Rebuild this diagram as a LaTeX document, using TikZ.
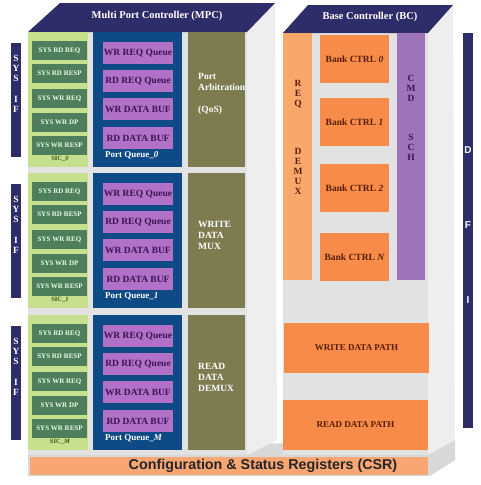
\documentclass[tikz,border=0pt]{standalone}
\usepackage{fontspec}
\setmainfont{Liberation Serif}
\newfontfamily\csrfont{Liberation Sans}
\usetikzlibrary{positioning}

\definecolor{hdrnavy}{HTML}{2F2C6A}
\definecolor{bodygray}{HTML}{E2E2E2}
\definecolor{sidegray}{HTML}{EEEEEE}
\definecolor{plategray}{HTML}{D8D8D8}
\definecolor{sicgreen}{HTML}{C6E08E}
\definecolor{sysgreen}{HTML}{4F7E5C}
\definecolor{pqblue}{HTML}{0E4A86}
\definecolor{qpurple}{HTML}{B171C6}
\definecolor{olivegreen}{HTML}{7D7C50}
\definecolor{reqorange}{HTML}{F9A86C}
\definecolor{bankorange}{HTML}{F68B4A}
\definecolor{cmdpurple}{HTML}{9E74B8}
\definecolor{csrorange}{HTML}{F8A673}
\definecolor{txtbrown}{HTML}{5A1E05}
\definecolor{txtpurple}{HTML}{3C1458}
\definecolor{txtsic}{HTML}{3D5218}

\newcommand{\Sub}[1]{\_\textit{#1}}

\begin{document}
\begin{tikzpicture}[x=1pt, y=-1pt,
    blk/.style={anchor=north west, inner sep=0pt, outer sep=0pt},
    hdr/.style={text=white, inner sep=0pt, font=\bfseries\fontsize{10.5}{12}\selectfont},
    sysif/.style={blk, fill=hdrnavy, minimum width=10pt, minimum height=114pt},
    sic/.style={blk, fill=sicgreen, minimum width=60pt, minimum height=135pt},
    sysbox/.style={blk, fill=sysgreen, text=white!90!green, minimum width=55pt, minimum height=19pt, font=\bfseries\fontsize{7}{8}\selectfont},
    pq/.style={blk, fill=pqblue, minimum width=89pt, minimum height=135pt},
    qbox/.style={blk, fill=qpurple, text=txtpurple, minimum width=70pt, minimum height=22pt, font=\bfseries\fontsize{9.5}{10}\selectfont},
    oliveblk/.style={blk, fill=olivegreen, minimum width=57pt, minimum height=135pt},
    olivetxt/.style={anchor=west, align=left, inner sep=0pt, text=white, font=\bfseries\fontsize{9.5}{11}\selectfont},
    bank/.style={blk, fill=bankorange, text=txtbrown, minimum width=69pt, minimum height=48pt, font=\bfseries\fontsize{9.5}{11}\selectfont},
    datapath/.style={blk, fill=bankorange, text=txtbrown, minimum width=145pt, minimum height=50pt, font=\bfseries\fontsize{9}{11}\selectfont},
    letters/.style={align=center, inner sep=0pt, font=\bfseries\fontsize{9.5}{10}\selectfont}]

    \useasboundingbox (0,0) rectangle (480,485);

    % slab and the two boxes
    \fill[plategray] (28,448) -- (455,440) -- (455,460) -- (430,476) -- (28,476) -- cycle;
    \fill[bodygray] (28,32) rectangle (247,455);
    \fill[sidegray] (247,32) -- (275,3) -- (277,440) -- (247,455) -- cycle;
    \fill[hdrnavy] (60,3) -- (275,3) -- (247,32) -- (28,32) -- cycle;
    \node[hdr] (mpc) at (157,16) {Multi Port Controller (MPC)};

    \fill[bodygray] (283,33) rectangle (428,455);
    \fill[sidegray] (428,33) -- (453,5) -- (455,440) -- (428,455) -- cycle;
    \fill[hdrnavy] (308,5) -- (453,5) -- (428,33) -- (283,33) -- cycle;
    \node[hdr] (bc) at (370,17) {Base Controller (BC)};

    % MPC rows
    \foreach \r/\y/\s/\arb in {0/32/0/{Port\\Arbitration\\[11pt](QoS)},
                               1/173/1/{WRITE\\DATA\\MUX},
                               2/315/M/{READ\\DATA\\DEMUX}}{
        \node[sysif] (if\r) at (11,\y+11) {};
        \node[letters, text=white] (iftxt\r) at (16,\y+52) {S\\Y\\S\\[11pt]I\\F};
        \node[sic] (sic\r) at (28,\y) {};
        \foreach \b/\off/\txt in {1/9/SYS RD REQ, 2/32/SYS RD RESP, 3/57/SYS WR REQ,
                                  4/81/SYS WR DP, 5/104/SYS WR RESP}
            \node[sysbox] (sys\r-\b) at (32,\y+\off) {\txt};
        \node[text=txtsic, inner sep=0pt, font=\bfseries\fontsize{6.5}{7}\selectfont] (siclab\r) at (60,\y+127) {SIC\Sub{\s}};
        \node[pq] (pq\r) at (93,\y) {};
        \foreach \q/\off/\txt in {1/10/WR REQ Queue, 2/38/RD REQ Queue,
                                  3/66/WR DATA BUF, 4/95/RD DATA BUF}
            \node[qbox] (q\r-\q) at (103,\y+\off) {\txt};
        \node[anchor=west, inner sep=0pt, text=white, font=\bfseries\fontsize{9}{10}\selectfont] (pqlab\r) at (105,\y+123) {Port Queue\Sub{\s}};
        \node[oliveblk] (ol\r) at (188,\y) {};
        \node[olivetxt] (oltxt\r) at (198,\y+62) {\arb};
    }

    % BC
    \node[blk, fill=reqorange, minimum width=29pt, minimum height=247pt] (reqdemux) at (283,33) {};
    \node[letters, text=txtbrown] (reqtxt) at (298,137) {R\\E\\Q\\[38pt]D\\E\\M\\U\\X};
    \node[blk, fill=cmdpurple, minimum width=28pt, minimum height=247pt] (cmdsch) at (397,33) {};
    \node[letters, text=txtpurple] (cmdtxt) at (411,118) {C\\M\\D\\[29pt]S\\C\\H};
    \foreach \k/\t/\s in {0/35/0, 1/98/1, 2/164/2, 3/233/N}
        \node[bank] (bank\k) at (320,\t) {Bank CTRL \textit{\s}};
    \node[datapath] (wrpath) at (284,323) {WRITE DATA PATH};
    \node[datapath] (rdpath) at (283,400) {READ DATA PATH};

    % DFI and CSR
    \node[blk, fill=hdrnavy, minimum width=10pt, minimum height=395pt] (dfi) at (463,33) {};
    \node[align=center, inner sep=0pt, text=white, font=\csrfont\bfseries\fontsize{10}{75}\selectfont] (dfitxt) at (468,225) {D\\F\\I};
    \node[blk, fill=csrorange, minimum width=398pt, minimum height=18pt] (csr) at (30,457) {};
    \node[inner sep=0pt, text=black!85, font=\csrfont\bfseries\fontsize{14.3}{16}\selectfont] (csrtxt) at (263,466) {Configuration \& Status Registers (CSR)};
\end{tikzpicture}
\end{document}
